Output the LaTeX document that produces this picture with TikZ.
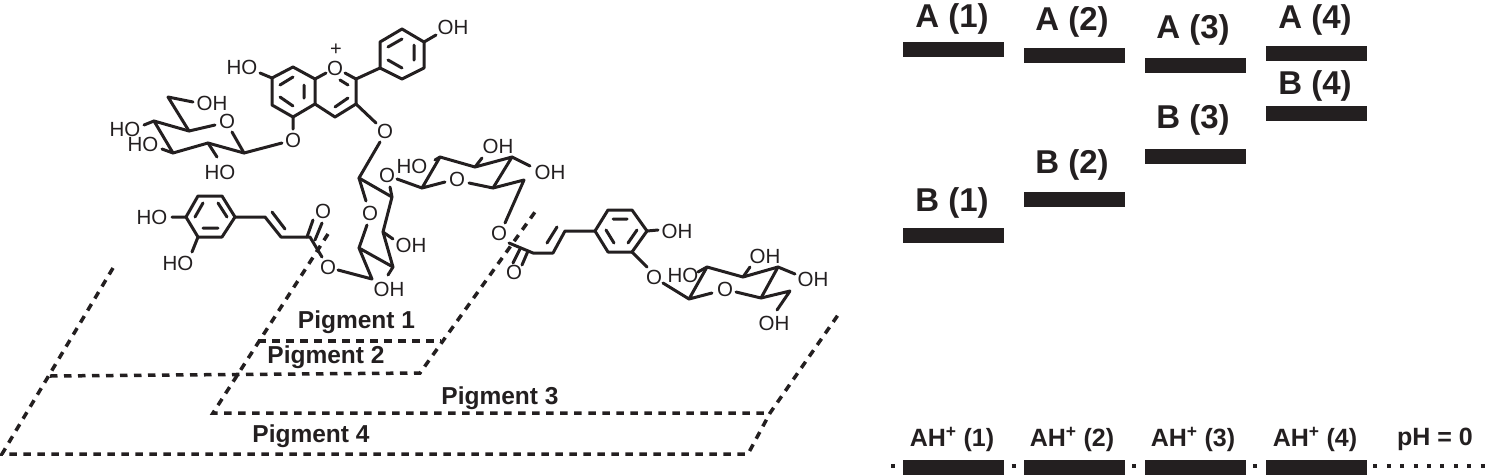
\documentclass[tikz,border=0pt]{standalone}
\usepackage{fontspec}
\setmainfont{Liberation Sans}
\definecolor{ink}{HTML}{231F20}
\tikzset{
  bond/.style={draw=ink,line width=3pt,line cap=round,line join=round},
  atom/.style={text=ink,inner sep=0pt,font=\fontsize{20.5}{20.5}\selectfont},
  pigline/.style={draw=ink,line width=3.5pt,dash pattern=on 7.5pt off 6.5pt},
  pig/.style={text=ink,inner sep=0pt,font=\fontsize{24.5}{24.5}\selectfont\bfseries},
  lvl/.style={fill=ink,inner sep=0pt,minimum width=101pt,anchor=north west},
  big/.style={text=ink,inner sep=0pt,font=\fontsize{33}{33}\selectfont\bfseries},
  small/.style={text=ink,inner sep=0pt,font=\fontsize{25}{25}\selectfont\bfseries},
  dotline/.style={draw=ink,line width=4pt,dash pattern=on 4pt off 9.4pt}
}
\begin{document}
\begin{tikzpicture}[x=1pt,y=-1pt]
\useasboundingbox (0,0) rectangle (1488,475);
% dashed frames
\draw[pigline] (113,268) -- (2,454) -- (748,454) -- (770,413) -- (838,315);
\draw[pigline] (50,376) -- (420,373) -- (535,212);
\draw[pigline] (328,234) -- (213,413) -- (770,413);
\draw[pigline] (258,341) -- (441,341);
% flavylium
\draw[bond] (272,78)--(293,67)--(315,79)--(315,104)--(293,117)--(272,105)--cycle;
\draw[bond] (315,79)--(326,73) (345,73)--(356,79)--(356,104)--(335,117)--(315,104);
\draw[bond] (280,85)--(293,77) (304,85)--(304,98) (280,97)--(293,106) (340,80)--(348,85) (335,107)--(348,98);
\draw[bond] (380,42)--(402,29)--(424,42)--(424,68)--(402,79)--(380,68)--cycle;
\draw[bond] (388,47)--(402,39) (414,45)--(414,60) (388,60)--(402,68);
\draw[bond] (356,79)--(380,68) (424,42)--(436,35);
\draw[bond] (260,73)--(272,78) (293,117)--(293,129) (356,104)--(376,123) (282,143)--(244,153);
% sugar 1
\draw[bond] (244,153)--(208,143)--(173,153)--(154,121)--(189,131)--(215,125);
\draw[bond] (232,132)--(244,153) (189,131)--(168,97)--(193,102);
\draw[bond] (208,143)--(217,157) (154,121)--(144,125) (173,153)--(162,149);
% central sugar
\draw[bond] (380,142)--(359,178)--(392,197)--(383,232)--(393,267)--(359,248)--(372,279)--(338,270);
\draw[bond] (359,248)--(367,225) (366,201)--(359,178) (393,267)--(388,275) (383,232)--(393,239) (392,197)--(390,187);
\draw[bond] (397,179)--(422,188);
% sugar 2
\draw[bond] (445,182)--(422,188)--(440,157)--(475,167)--(512,157)--(493,188)--(469,183);
\draw[bond] (493,188)--(524,180)--(505,223);
\draw[bond] (475,167)--(482,158) (512,157)--(530,166) (440,157)--(435,160);
% left caffeoyl
\draw[bond] (235,217)--(222,196)--(198,196)--(186,217)--(198,237)--(222,237)--cycle;
\draw[bond] (195,217)--(203,203) (218,203)--(227,217) (203,228)--(218,228);
\draw[bond] (172,217)--(186,217) (198,237)--(192,252);
\draw[bond] (235,217)--(265,217)--(281,237)--(310,237)--(322,257) (272,212)--(285,229);
\draw[bond] (307,237)--(313,220) (315,240)--(322,223);
% right caffeoyl
\draw[bond] (509,243)--(533,253)--(553,253)--(565,231)--(595,231);
\draw[bond] (547,243)--(557,227) (528,251)--(522,265) (520,249)--(513,263);
\draw[bond] (595,231)--(608,210)--(632,210)--(647,231)--(632,252)--(608,252)--cycle;
\draw[bond] (613,219)--(627,219) (606,230)--(614,243) (628,243)--(637,230);
\draw[bond] (647,231)--(658,230) (632,252)--(647,267) (663,283)--(689,299);
% sugar 3
\draw[bond] (712,293)--(689,299)--(707,267)--(743,277)--(778,267)--(761,298)--(736,292);
\draw[bond] (761,298)--(790,291)--(777,310);
\draw[bond] (743,277)--(750,267) (778,267)--(795,274) (707,267)--(698,272);
% atoms
\foreach \n/\x/\y/\t in {o1/335/68/O,o2/293/140/O,o3/385/131/O,o4/227/121/O,o5/370/213/O,o6/387/175/O,o7/457/179/O,o8/499/233/O,o9/514/272/O,o10/323/211/O,o11/328/267/O,o12/654/277/O,o13/725/289/O,
  h1/242/67/HO,h2/453/27/OH,h3/212/103/OH,h4/125/129/HO,h5/143/144/HO,h6/220/172/HO,h7/152/217/HO,h8/178/263/HO,h9/411/245/OH,h10/389/289/OH,h11/412/166/HO,h12/498/146/OH,h13/550/172/OH,h14/677/231/OH,h15/683/275/HO,h16/765/256/OH,h17/813/279/OH,h18/774/323/OH}
  {\node[atom] (\n) at (\x,\y) {\t};}
\node[atom,font=\fontsize{20}{20}\selectfont] (plus) at (336,50) {+};
% pigment labels
\node[pig] (p1) at (356.5,322) {Pigment 1};
\node[pig] (p2) at (326,357) {Pigment 2};
\node[pig] (p3) at (500,398) {Pigment 3};
\node[pig] (p4) at (311,436) {Pigment 4};
% dotted baseline and levels
\coordinate (dl) at (891,466);
\coordinate (dr) at (1488,466);
\draw[dotline] (dl) -- (dr);
\node[lvl,minimum height=15pt] (b1) at (903,460) {};
\node[lvl,minimum height=15pt] (b2) at (1024,460) {};
\node[lvl,minimum height=15pt] (b3) at (1145,460) {};
\node[lvl,minimum height=15pt] (b4) at (1266,460) {};
\node[lvl,minimum height=14.5pt] (a1) at (903,42) {};
\node[lvl,minimum height=14.5pt] (a2) at (1024,48) {};
\node[lvl,minimum height=14.5pt] (a3) at (1145,58) {};
\node[lvl,minimum height=14.5pt] (a4) at (1266,46) {};
\node[lvl,minimum height=14.5pt] (bb1) at (903,228) {};
\node[lvl,minimum height=14.5pt] (bb2) at (1024,192) {};
\node[lvl,minimum height=14.5pt] (bb3) at (1145,149) {};
\node[lvl,minimum height=14.5pt] (bb4) at (1266,106) {};
\node[big] (la1) at (952,19) {A (1)};
\node[big] (la2) at (1072,22) {A (2)};
\node[big] (la3) at (1193,30) {A (3)};
\node[big] (la4) at (1315,20) {A (4)};
\node[big] (lb1) at (952,203) {B (1)};
\node[big] (lb2) at (1072,165) {B (2)};
\node[big] (lb3) at (1193,120) {B (3)};
\node[big] (lb4) at (1315,86) {B (4)};
\node[small] (h1l) at (952,439) {AH\textsuperscript{+} (1)};
\node[small] (h2l) at (1072,439) {AH\textsuperscript{+} (2)};
\node[small] (h3l) at (1193,439) {AH\textsuperscript{+} (3)};
\node[small] (h4l) at (1315,439) {AH\textsuperscript{+} (4)};
\node[small] (ph) at (1435,439) {pH = 0};
\end{tikzpicture}
\end{document}
